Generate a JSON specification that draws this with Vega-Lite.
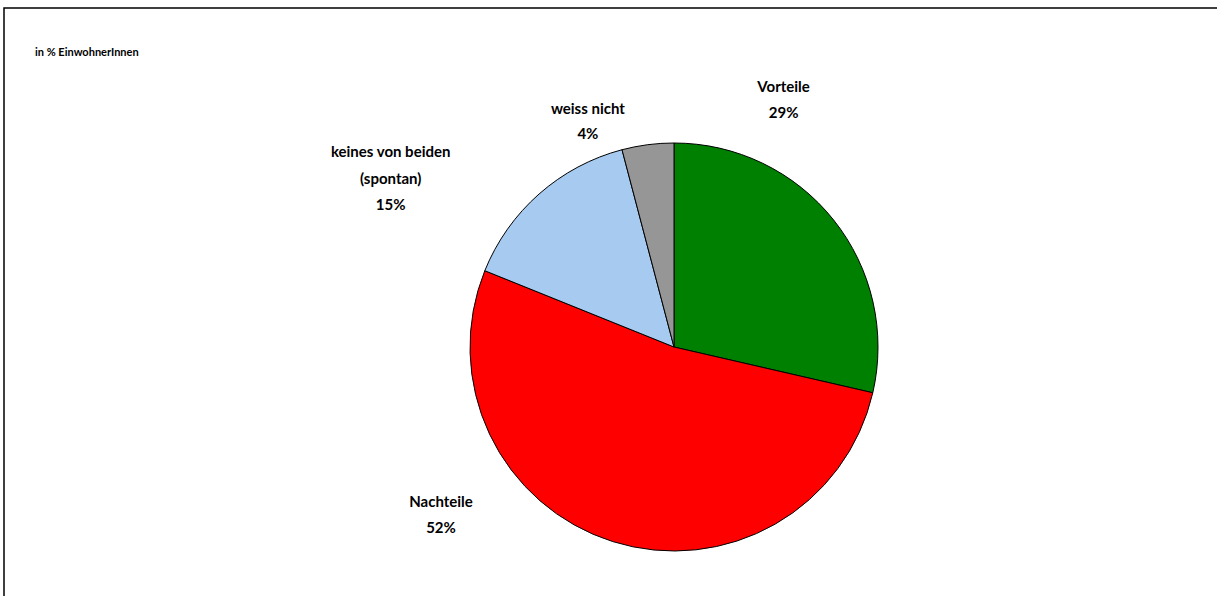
{
  "$schema": "https://vega.github.io/schema/vega-lite/v6.json",
  "width": 1340,
  "height": 678,
  "autosize": {"type": "none"},
  "padding": {"left": 4, "top": 8, "right": 0, "bottom": 0},
  "background": "white",
  "view": {"stroke": "#000000", "strokeWidth": 1.5, "fill": "white"},
  "config": {"font": "Lato"},
  "title": {"text": "in % EinwohnerInnen", "anchor": "start", "frame": "group", "offset": -64, "dx": 31, "dy": 12, "fontSize": 11, "fontWeight": "bold", "font": "Lato", "color": "#000", "baseline": "middle"},
  "data": {
    "values": [
      {"idx": 1, "kategorie": "Vorteile", "anteil": 28.6, "label": "Vorteile\n29%"},
      {"idx": 2, "kategorie": "Nachteile", "anteil": 52.5, "label": "Nachteile\n52%"},
      {"idx": 3, "kategorie": "keines von beiden (spontan)", "anteil": 14.8, "label": "keines von beiden\n(spontan)\n15%"},
      {"idx": 4, "kategorie": "weiss nicht", "anteil": 4.1, "label": "weiss nicht\n4%"}
    ]
  },
  "encoding": {
    "theta": {"field": "anteil", "type": "quantitative", "stack": true},
    "order": {"field": "idx", "type": "quantitative"}
  },
  "layer": [
    {
      "mark": {"type": "arc", "outerRadius": 204, "stroke": "#000", "strokeWidth": 1},
      "encoding": {
        "color": {"field": "kategorie", "type": "nominal", "legend": null,
          "scale": {"domain": ["Vorteile", "Nachteile", "keines von beiden (spontan)", "weiss nicht"],
                    "range": ["#008000", "#FF0000", "#A6CAF0", "#969696"]}}
      }
    },
    {
      "mark": {"type": "text", "radius": 250, "dx": -86, "dy": -104, "fontSize": 15, "fontWeight": "bold", "lineBreak": "\n", "lineHeight": 26, "align": "center", "baseline": "middle", "color": "#000"},
      "encoding": {"text": {"condition": {"test": "datum.kategorie === 'Vorteile'", "field": "label"}, "value": ""}}
    },
    {
      "mark": {"type": "text", "radius": 250, "dx": -158, "dy": -83, "fontSize": 15, "fontWeight": "bold", "lineBreak": "\n", "lineHeight": 26, "align": "center", "baseline": "middle", "color": "#000"},
      "encoding": {"text": {"condition": {"test": "datum.kategorie === 'Nachteile'", "field": "label"}, "value": ""}}
    },
    {
      "mark": {"type": "text", "radius": 250, "dx": -118, "dy": -7, "fontSize": 15, "fontWeight": "bold", "lineBreak": "\n", "lineHeight": 26.5, "align": "center", "baseline": "middle", "color": "#000"},
      "encoding": {"text": {"condition": {"test": "datum.kategorie === 'keines von beiden (spontan)'", "field": "label"}, "value": ""}}
    },
    {
      "mark": {"type": "text", "radius": 250, "dx": -54, "dy": 10, "fontSize": 15, "fontWeight": "bold", "lineBreak": "\n", "lineHeight": 25, "align": "center", "baseline": "middle", "color": "#000"},
      "encoding": {"text": {"condition": {"test": "datum.kategorie === 'weiss nicht'", "field": "label"}, "value": ""}}
    }
  ]
}
